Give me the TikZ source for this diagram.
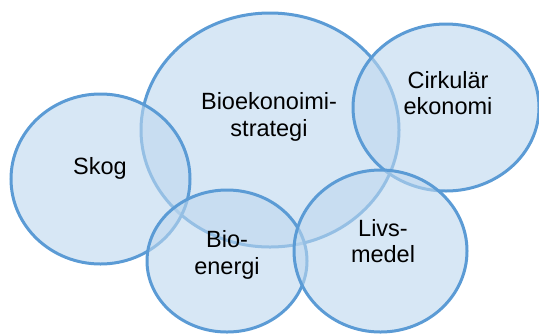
\documentclass[tikz,border=0pt]{standalone}
\usepackage{fontspec}
\setmainfont{Liberation Sans}
\usepackage{tikz}
\usepackage{xcolor}
\definecolor{Bline}{RGB}{91,155,213}
\definecolor{Bfill}{RGB}{189,215,238}
% one bubble: name, centre x, centre y, x radius, y radius
\newcommand{\Bubble}[5]{%
    \path[draw=Bline, line width=1.5pt, fill=Bfill, fill opacity=0.6]
      (#2,#3) ellipse [x radius=#4, y radius=#5];
    \coordinate (#1) at (#2,#3);
  }

\begin{document}
\begin{tikzpicture}[x=0.5pt,y=-0.5pt,
    every node/.style={font=\fontsize{11.75}{13.25}\selectfont, align=center}]
  \useasboundingbox (0,0) rectangle (539,333);

  % ------------------------------------------------
  % bubbles, back to front
  % ------------------------------------------------
  \Bubble{strategi}{270}{130}{129}{117}
  \Bubble{skog}{100.5}{179}{89.5}{85}
  \Bubble{cirkular}{446}{107.5}{93}{83.5}
  \Bubble{energi}{227}{261}{80}{71}
  \Bubble{medel}{380.5}{251}{86.5}{81}

  % ------------------------------------------------
  % labels
  % ------------------------------------------------
  \node (skogtext) at (100,168) {Skog};
  \node (strategitext) at (269,117) {Bioekonoimi-\\strategi};
  \node (cirkulartext) at (448,93) {Cirkulär\\ekonomi};
  \node (energitext) at (227,255) {Bio-\\energi};
  \node (medeltext) at (383,241) {Livs-\\medel};
\end{tikzpicture}
\end{document}
